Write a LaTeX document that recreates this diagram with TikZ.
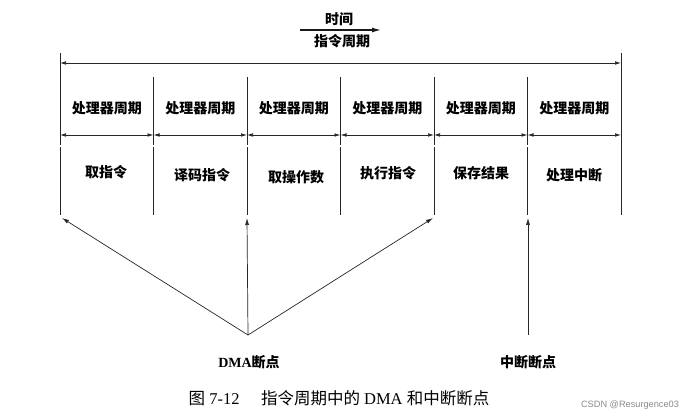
\documentclass[tikz,border=0pt]{standalone}
\usepackage{fontspec}
\setmainfont{Liberation Serif}
\newfontfamily\cjk{Noto Sans CJK SC}
\newfontfamily\wmfont{Liberation Sans}
\usetikzlibrary{arrows.meta}
\begin{document}
\begin{tikzpicture}[x=1pt,y=-1pt,
  rule/.style={line width=0.7pt, draw=black!85},
  span/.style={rule, {Latex[length=6pt,width=3.6pt]}-{Latex[length=6pt,width=3.6pt]}},
  pointer/.style={rule, -{Latex[length=7pt,width=4pt]}},
  timearrow/.style={line width=1.3pt, draw=black!90, -{Latex[length=9pt,width=5pt]}},
  cell/.style={font=\cjk\bfseries\fontsize{14}{16}\selectfont, inner sep=0pt},
  mark label/.style={font=\bfseries\fontsize{14}{16}\selectfont, inner sep=0pt},
  caption/.style={font=\fontsize{16.5}{18}\selectfont, inner sep=0pt},
  watermark/.style={font=\wmfont\fontsize{9.2}{11}\selectfont, text=black!45, inner sep=0pt}
]
\useasboundingbox (0,0) rectangle (685,419);
\fill[white] (0,0) rectangle (685,419);

% time direction
\coordinate (ts) at (300,30);
\coordinate (te) at (381,30);
\draw[timearrow] (ts) -- (te);
\node[cell] (time) at (339,19) {时间};
\node[cell] (icycle) at (342,41) {指令周期};

% cycle boundaries
\foreach \i in {0,...,6}{
  \coordinate (top\i) at (60+93.5*\i,77);
  \coordinate (bot\i) at (60+93.5*\i,215);
  \coordinate (arr\i) at (60+93.5*\i,135);
  \coordinate (dbl\i) at (60+93.5*\i,146);
}
\coordinate (top0) at (60,53);
\coordinate (top6) at (621,53);
\foreach \i in {0,...,6}{ \draw[rule] (top\i) -- (bot\i); }

% instruction cycle span
\coordinate (spanL) at (60,63);
\coordinate (spanR) at (621,63);
\draw[span] (spanL) -- (spanR);

% processor cycle spans
\foreach \i [evaluate=\i as \j using int(\i+1)] in {0,...,5}{
  \draw[span] (arr\i) -- (arr\j);
}
\draw[rule, double, double distance=1.6pt, line width=0.6pt] (dbl0) -- (dbl6);

% labels of the cells
\foreach \i in {0,...,5}{
  \node[cell] (pc\i) at (106.75+93.5*\i,108) {处理器周期};
}
\node[cell] (s0) at (106,172) {取指令};
\node[cell] (s1) at (202,175) {译码指令};
\node[cell] (s2) at (296,177) {取操作数};
\node[cell] (s3) at (388,173) {执行指令};
\node[cell] (s4) at (481,173) {保存结果};
\node[cell] (s5) at (574,175) {处理中断};

% breakpoints
\coordinate (dma) at (248,335);
\coordinate (hitA) at (62,218);
\coordinate (hitB) at (247,218);
\coordinate (hitC) at (433,218);
\draw[pointer] (dma) -- (hitA);
\draw[pointer] (dma) -- (hitB);
\draw[pointer] (dma) -- (hitC);
\coordinate (intp) at (528,335);
\coordinate (hitD) at (528,218);
\draw[pointer] (intp) -- (hitD);

\node[mark label] (dmalbl) at (249,362) {DMA{\cjk 断点}};
\node[mark label] (intlbl) at (528,362) {\cjk 中断断点};

% caption
\node[caption] (cap) at (339,398) {{\cjk 图} 7-12\hspace{1.3em}{\cjk 指令周期中的} DMA {\cjk 和中断断点}};
\node[watermark] (wm) at (630,405) {CSDN @Resurgence03};
\end{tikzpicture}
\end{document}
